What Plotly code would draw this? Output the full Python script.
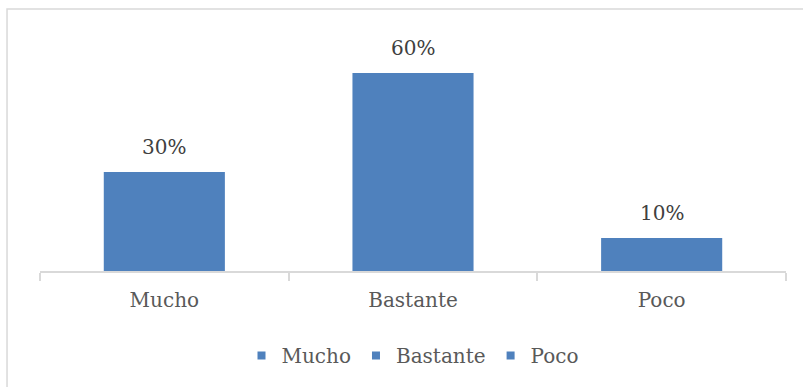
import plotly.graph_objects as go

categories = ["Mucho", "Bastante", "Poco"]
values = [0.30, 0.60, 0.10]
labels = ["30%", "60%", "10%"]

BAR = "#4F81BD"
FONT = "DejaVu Serif"

fig = go.Figure()
fig.add_trace(go.Bar(x=categories, y=values, marker=dict(color=BAR, line=dict(width=0)),
                     showlegend=False, hoverinfo="skip"))
for c in categories:
    fig.add_trace(go.Scatter(x=[None], y=[None], mode="markers", name=c,
                             marker=dict(symbol="square", size=8, color=BAR)))

for c, v, t in zip(categories, values, labels):
    fig.add_annotation(x=c, y=v, text=t, showarrow=False, yanchor="bottom", yshift=11,
                       font=dict(family=FONT, size=20, color="#404040"))

fig.add_shape(type="rect", xref="paper", yref="paper", x0=-0.0442, x1=1.2, y0=-1.0, y1=1.134,
              line=dict(color="#D9D9D9", width=1.5), layer="below")

fig.update_layout(
    width=803, height=387,
    margin=dict(l=40, r=17, t=40, b=116),
    paper_bgcolor="white", plot_bgcolor="white",
    bargap=0.513,
    font=dict(family=FONT, size=20, color="#595959"),
    xaxis=dict(showline=True, linecolor="#D9D9D9", linewidth=1.5, ticks="outside",
               tickson="boundaries", ticklen=8, tickcolor="#D9D9D9", tickwidth=1.5,
               ticklabelstandoff=10, showgrid=False,
               tickfont=dict(family=FONT, size=20, color="#595959")),
    yaxis=dict(range=[0, 0.7], visible=False, showgrid=False),
    legend=dict(orientation="h", x=0.5, xanchor="center", y=-0.366, yanchor="middle",
                font=dict(family=FONT, size=20, color="#595959"), itemwidth=30,
                entrywidthmode="pixels"),
)

fig.write_html("out.html")
